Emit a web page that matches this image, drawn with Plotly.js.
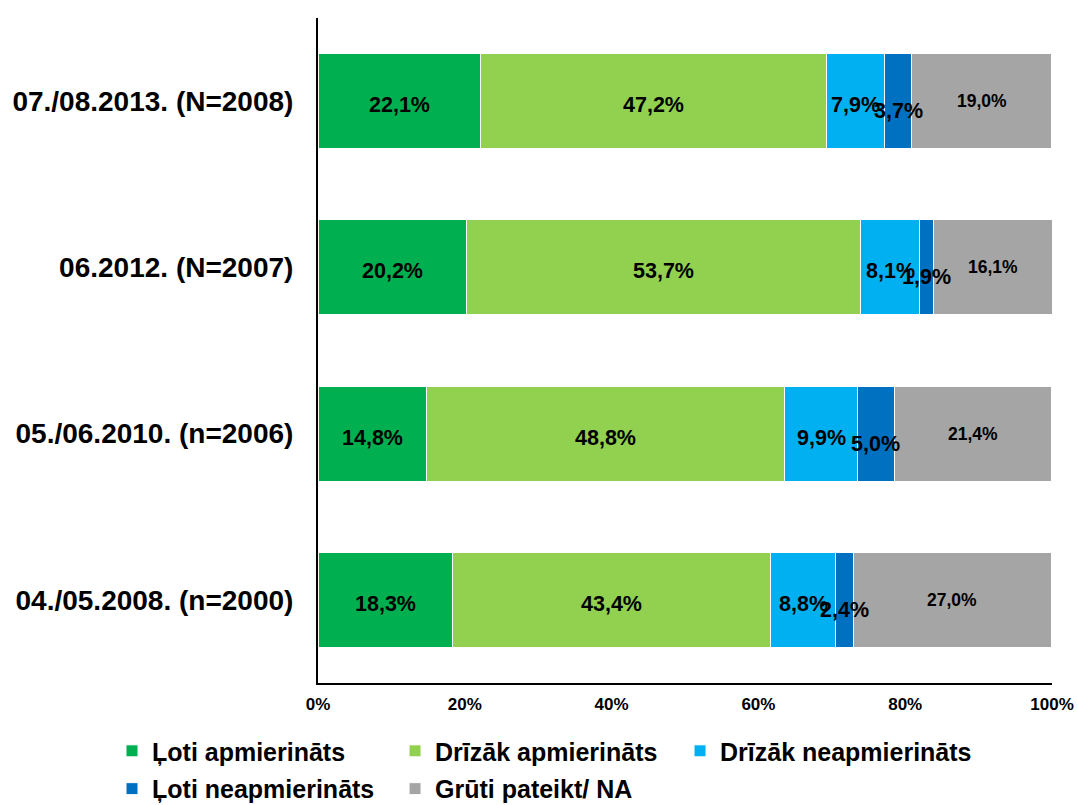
<!DOCTYPE html>
<html>
<head>
<meta charset="utf-8">
<script src="https://cdn.plot.ly/plotly-3.0.1.min.js"></script>
<style>html,body{margin:0;padding:0;background:#fff;}#chart{width:1077px;height:805px;}</style>
</head>
<body>
<div id="chart"></div>
<script>
const categories = ["07./08.2013. (N=2008)", "06.2012. (N=2007)", "05./06.2010. (n=2006)", "04./05.2008. (n=2000)"];
const seriesNames = ["Ļoti apmierināts", "Drīzāk apmierināts", "Drīzāk neapmierināts", "Ļoti neapmierināts", "Grūti pateikt/ NA"];
const lotiApmierinats = [22.1, 20.2, 14.8, 18.3];
const drizakApmierinats = [47.2, 53.7, 48.8, 43.4];
const drizakNeapmierinats = [7.9, 8.1, 9.9, 8.8];
const lotiNeapmierinats = [3.7, 1.9, 5.0, 2.4];
const grutiPateikt = [19.0, 16.1, 21.4, 27.0];
const xTickVals = [0, 20, 40, 60, 80, 100];
const xTickText = ["0%", "20%", "40%", "60%", "80%", "100%"];

const seriesValues = [lotiApmierinats, drizakApmierinats, drizakNeapmierinats, lotiNeapmierinats, grutiPateikt];
const colors = ["#00B050", "#92D050", "#00B0F0", "#0070C0", "#A5A5A5"];
const labelSizes = [21.5, 21.5, 21.5, 21.5, 17.5];
const labelShift = [-4, -4, -4, -10, 0];
const FONT = "Liberation Sans, Arial, sans-serif";

// one legend per entry so each sits where the reference puts it
const legendIds = ["legend", "legend2", "legend3", "legend4", "legend5"];
const legendPos = [[0.104, 0.067], [0.3668, 0.067], [0.6314, 0.067], [0.104, 0.02], [0.3668, 0.02]];

const traces = seriesValues.map((vals, i) => ({
  type: "bar",
  orientation: "h",
  name: seriesNames[i],
  y: categories,
  x: vals,
  width: 0.57,
  marker: {color: colors[i], line: {color: "#ffffff", width: 1}},
  hoverinfo: "x+name",
  legend: legendIds[i]
}));

const annotations = [];
const cum = categories.map(() => 0);
seriesValues.forEach((vals, i) => {
  vals.forEach((v, j) => {
    annotations.push({
      x: cum[j] + v / 2,
      y: categories[j],
      xref: "x", yref: "y",
      text: v.toFixed(1).replace(".", ",") + "%",
      showarrow: false,
      yshift: labelShift[i],
      font: {family: FONT, size: labelSizes[i], color: "#000", weight: "bold"}
    });
    cum[j] += v;
  });
});

const layout = {
  width: 1077,
  height: 805,
  margin: {l: 318, r: 25, t: 18, b: 122},
  paper_bgcolor: "#fff",
  plot_bgcolor: "#fff",
  barmode: "stack",
  bargap: 0.43,
  showlegend: true,
  xaxis: {
    range: [0, 100],
    tickvals: xTickVals,
    ticktext: xTickText,
    showgrid: false,
    zeroline: false,
    showline: true,
    linecolor: "#000",
    linewidth: 2,
    ticks: "",
    ticklabelstandoff: 5,
    tickfont: {family: FONT, size: 17, color: "#000", weight: "bold"},
    fixedrange: true
  },
  yaxis: {
    type: "category",
    categoryorder: "array",
    categoryarray: categories,
    autorange: "reversed",
    showgrid: false,
    zeroline: false,
    showline: true,
    linecolor: "#000",
    linewidth: 2,
    ticks: "",
    ticklabelstandoff: 17,
    tickfont: {family: FONT, size: 28, color: "#000", weight: "bold"},
    fixedrange: true
  },
  annotations: annotations
};

legendIds.forEach((id, i) => {
  layout[id] = {
    orientation: "h",
    xref: "container",
    yref: "container",
    xanchor: "left",
    yanchor: "middle",
    x: legendPos[i][0],
    y: legendPos[i][1],
    font: {family: FONT, size: 25, color: "#000", weight: "bold"},
    bgcolor: "rgba(0,0,0,0)"
  };
});

Plotly.newPlot("chart", traces, layout, {displayModeBar: false, staticPlot: true});
</script>
</body>
</html>
